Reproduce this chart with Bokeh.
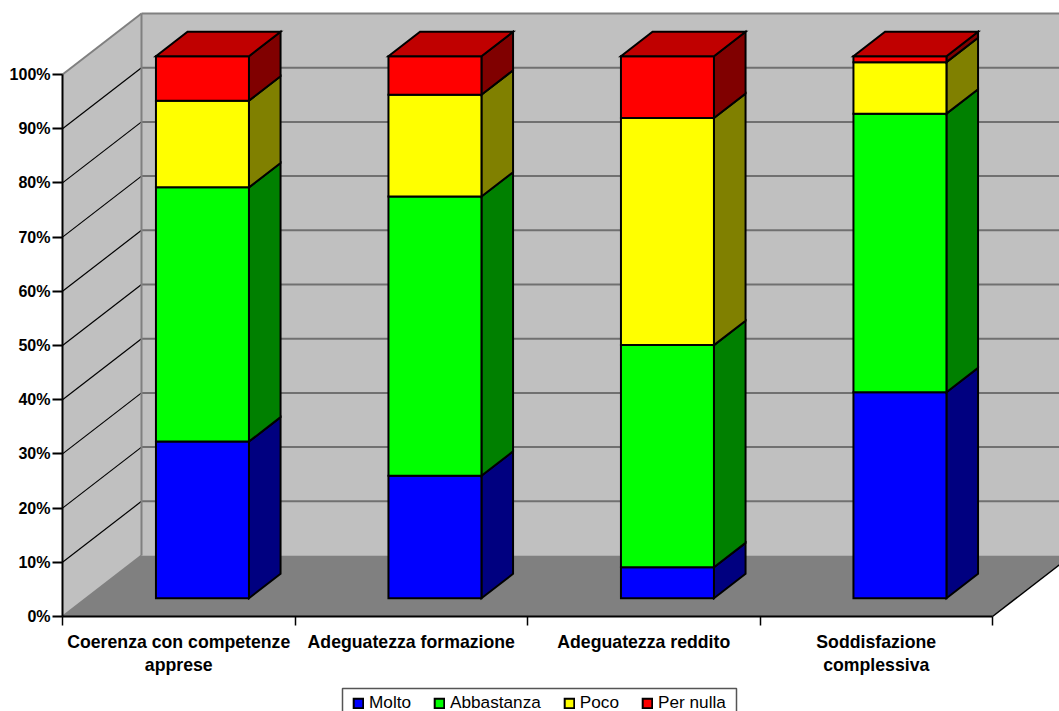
from bokeh.plotting import figure
from bokeh.models import Range1d, LinearAxis, FixedTicker, Legend, LegendItem
from bokeh.embed import file_html
from bokeh.resources import INLINE
import numpy as np

categories = ["Coerenza con competenze\napprese", "Adeguatezza formazione",
              "Adeguatezza reddito", "Soddisfazione\ncomplessiva"]
series_names = ["Molto", "Abbastanza", "Poco", "Per nulla"]
molto = [28.9, 22.6, 5.7, 38.0]
abbastanza = [46.9, 51.5, 41.0, 51.4]
poco = [16.0, 18.8, 41.9, 9.5]
per_nulla = [8.2, 7.1, 11.4, 1.1]
series = [molto, abbastanza, poco, per_nulla]
front_colors = ["#0000FF", "#00FF00", "#FFFF00", "#FF0000"]
side_colors = ["#000080", "#008000", "#808000", "#800000"]
top_color = "#C00000"
y_ticks = list(range(0, 101, 10))

W, H = 1059, 711
LEFT, BOTTOM = 62, 616
PX_X, PX_Y = 232.5, 5.42            # pixels per category / per percent
DX, DY = 79 / PX_X, 61 / PX_Y       # chart depth in data units
D0, D1 = 0.3, 0.7                   # depth span of the bars
BAR_W = 0.4
N = len(categories)

# the plot area fills the whole figure, so that the left axis sits on its own
# fixed location and the tick marks and legend frame are not cut off
p = figure(width=W, height=H, output_backend="svg", toolbar_location=None,
           x_range=Range1d(-LEFT / PX_X, (W - LEFT) / PX_X),
           y_range=Range1d(-(H - BOTTOM) / PX_Y, BOTTOM / PX_Y),
           x_axis_type=None, y_axis_type=None,
           min_border_left=0, min_border_right=0, min_border_top=0,
           min_border_bottom=0, outline_line_color=None,
           background_fill_color="white", border_fill_color="white")
p.grid.visible = False

WALL, FLOOR, EDGE = "#C0C0C0", "#808080", "#808080"
top = 100 + DY
p.patch([DX, N + DX, N + DX, DX], [DY, DY, top, top], fill_color=WALL, line_color=None)
p.patch([0, DX, DX, 0], [0, DY, top, 100], fill_color=WALL, line_color=None)
p.patch([0, N, N + DX, DX], [0, 0, DY, DY], fill_color=FLOOR, line_color=None)

inner = [t for t in y_ticks if 0 < t < 100]
p.multi_line([[DX, N + DX] for _ in inner], [[t + DY, t + DY] for t in inner],
             line_color="#707070", line_width=2)
p.multi_line([[0, DX] for _ in inner], [[t, t + DY] for t in inner],
             line_color="black", line_width=1.2)
p.multi_line([[DX, DX], [DX, N + DX], [0, DX], [0, DX]],
             [[DY, top], [top, top], [100, top], [0, DY]],
             line_color=EDGE, line_width=2)
p.line([N, N + DX], [0, DY], line_color="black", line_width=1.5)

x_center = np.arange(N) + 0.5 + DX * D0
left = x_center - BAR_W / 2
right = x_center + BAR_W / 2
ddx = DX * (D1 - D0)
y0 = DY * D0
ddy = DY * (D1 - D0)
bottoms = np.zeros(N)
renderers = []
LW = 2
for vals, fc, sc in zip(series, front_colors, side_colors):
    vals = np.array(vals)
    tops = bottoms + vals
    xs = [[r, r + ddx, r + ddx, r] for r in right]
    ys = [[y0 + b, y0 + b + ddy, y0 + t + ddy, y0 + t] for b, t in zip(bottoms, tops)]
    p.patches(xs, ys, fill_color=sc, line_color="black", line_width=LW, line_join="miter")
    r = p.quad(left=left, right=right, bottom=y0 + bottoms, top=y0 + tops,
               fill_color=fc, line_color="black", line_width=LW, line_join="miter")
    renderers.append(r)
    bottoms = tops
xs = [[l, r, r + ddx, l + ddx] for l, r in zip(left, right)]
ys = [[y0 + t, y0 + t, y0 + t + ddy, y0 + t + ddy] for t in bottoms]
p.patches(xs, ys, fill_color=top_color, line_color="black", line_width=LW, line_join="miter")

FONT = "Liberation Sans"
yax = LinearAxis(ticker=FixedTicker(ticks=y_ticks),
                 major_label_overrides={t: f"{t}%" for t in y_ticks},
                 fixed_location=0,
                 bounds=(0, 100), axis_line_color="black", axis_line_width=2,
                 major_tick_line_color="black", major_tick_line_width=2,
                 major_tick_out=10, major_tick_in=0, minor_tick_out=0, minor_tick_in=0,
                 major_label_standoff=2, major_label_text_font=FONT,
                 major_label_text_font_style="bold", major_label_text_font_size="16px",
                 major_label_text_color="black")
p.add_layout(yax, "left")
centers = [i + 0.5 for i in range(N)]
xax = LinearAxis(ticker=FixedTicker(ticks=centers, minor_ticks=list(range(N + 1))),
                 major_label_overrides=dict(zip(centers, categories)),
                 fixed_location=0,
                 bounds=(0, N), axis_line_color="black", axis_line_width=2,
                 major_tick_out=0, major_tick_in=0,
                 minor_tick_line_color="black", minor_tick_line_width=1.5,
                 minor_tick_out=9, minor_tick_in=0,
                 major_label_standoff=6, major_label_text_font=FONT,
                 major_label_text_font_style="bold", major_label_text_font_size="17.7px",
                 major_label_text_color="black", major_label_text_line_height=1.15)
p.add_layout(xax, "below")

# legend frame, running past the bottom edge of the picture as in the reference
def px_x(x): return (x - LEFT) / PX_X
def px_y(y): return (BOTTOM - y) / PX_Y
p.quad(left=[px_x(342)], right=[px_x(736)], top=[px_y(688)], bottom=[px_y(716)],
       fill_color="white", line_color="#555555", line_width=1.5)
legend = Legend(items=[LegendItem(label=n, renderers=[r]) for n, r in zip(series_names, renderers)],
                orientation="horizontal", location=(356 - 4, -2),
                glyph_width=12, glyph_height=12, label_standoff=5, spacing=22,
                padding=4, margin=0, label_text_font=FONT, label_text_font_size="17.2px",
                label_text_color="black", border_line_color=None,
                background_fill_alpha=0)
p.add_layout(legend, "center")

open("out.html", "w").write(file_html(p, INLINE))
